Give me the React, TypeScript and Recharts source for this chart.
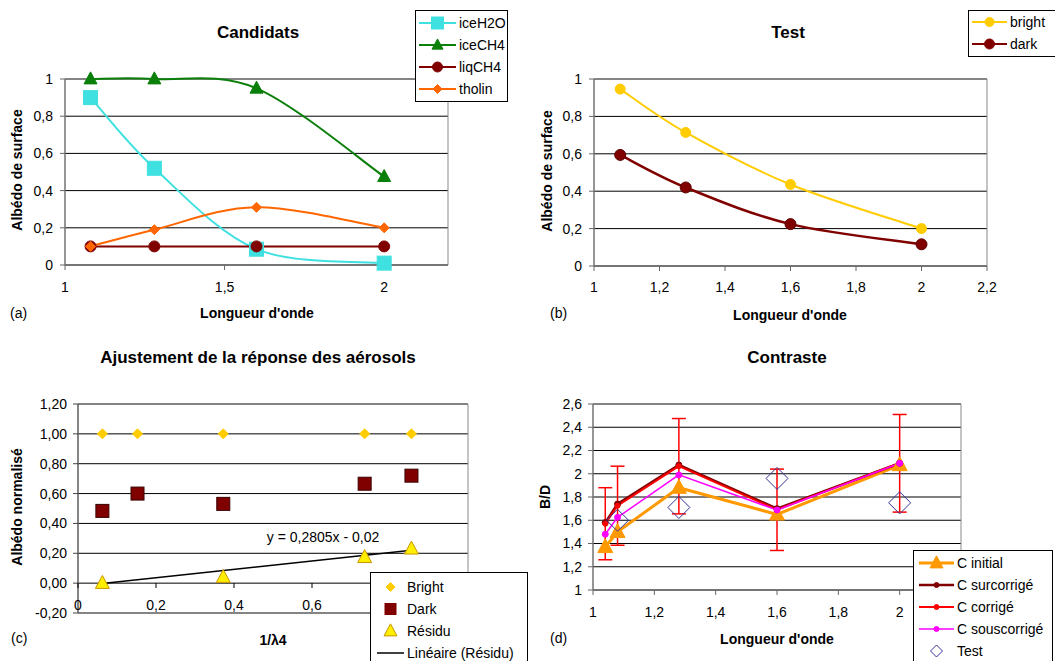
import React from 'react';
import { LineChart, Line, ScatterChart, Scatter, XAxis, YAxis, CartesianGrid, ReferenceArea, Legend, ErrorBar } from 'recharts';

const FONT = '"Liberation Sans", Arial, Helvetica, sans-serif';

// (a) Candidats
const candX = [1.08, 1.28, 1.6, 2];
const iceH2O = [0.9, 0.52, 0.085, 0.01];
const iceCH4 = [1, 1, 0.95, 0.475];
const liqCH4 = [0.1, 0.1, 0.1, 0.1];
const tholin = [0.1, 0.19, 0.31, 0.2];

// (b) Test
const testX = [1.08, 1.28, 1.6, 2];
const bright = [0.946, 0.714, 0.436, 0.2];
const dark = [0.594, 0.42, 0.224, 0.116];

// (c) Ajustement
const invL4 = [0.0625, 0.1526, 0.3725, 0.735, 0.855];
const brightNorm = [1, 1, 1, 1, 1];
const darkNorm = [0.484, 0.6, 0.531, 0.666, 0.72];
const residu = [0, null, 0.04, 0.173, 0.23];
const trendX = [0.0625, 0.855];
const trendY = [-0.0025, 0.22];

// (d) Contraste
const contX = [1.04, 1.08, 1.28, 1.6, 2];
const cInitial = [1.37, 1.5, 1.88, 1.65, 2.075];
const cSur = [1.58, 1.74, 2.075, 1.7, 2.09];
const cCorr = [1.57, 1.725, 2.065, 1.69, 2.09];
const cCorrErr = [0.31, 0.34, 0.41, 0.35, 0.42];
const cSous = [1.48, 1.625, 1.99, 1.688, 2.09];
const cTest = [null, 1.6, 1.71, 1.96, 1.75];

const ticksA = [1, 1.5, 2];
const ticks02 = [1, 1.2, 1.4, 1.6, 1.8, 2, 2.2];
const ticksD = [1, 1.2, 1.4, 1.6, 1.8, 2];
const ticksAlb = [0, 0.2, 0.4, 0.6, 0.8, 1];
const ticksCx = [0, 0.2, 0.4, 0.6];
const ticksCy = [-0.2, 0, 0.2, 0.4, 0.6, 0.8, 1, 1.2];
const ticksDy = [1, 1.2, 1.4, 1.6, 1.8, 2, 2.2, 2.4, 2.6];

const CYAN = '#3FE0E0';
const GREEN = '#0A800A';
const MAROON = '#800000';
const ORANGE = '#FF6600';
const GOLD = '#FFCC00';
const AMBER = '#FF9900';
const RED = '#FF0000';
const MAGENTA = '#FF00FF';
const NAVY = '#333399';

const fmt = (v: number) => String(Math.round(v * 100) / 100).replace('.', ',');
const fmt2 = (v: number) => v.toFixed(2).replace('.', ',');
const tickStyle = { fontSize: 14, fill: '#000', fontFamily: FONT };

type Shape = 'square' | 'circle' | 'triangle' | 'diamond';

function drawShape(shape: Shape, cx: number, cy: number, s: number, fill: string, stroke: string, sw = 1, key?: string) {
  const h = s / 2;
  if (shape === 'square') return <rect key={key} x={cx - h} y={cy - h} width={s} height={s} fill={fill} stroke={stroke} strokeWidth={sw} />;
  if (shape === 'circle') return <circle key={key} cx={cx} cy={cy} r={h} fill={fill} stroke={stroke} strokeWidth={sw} />;
  if (shape === 'triangle')
    return <polygon key={key} points={`${cx},${cy - h * 1.1} ${cx + h},${cy + h * 0.75} ${cx - h},${cy + h * 0.75}`} fill={fill} stroke={stroke} strokeWidth={sw} />;
  return <polygon key={key} points={`${cx},${cy - h} ${cx + h},${cy} ${cx},${cy + h} ${cx - h},${cy}`} fill={fill} stroke={stroke} strokeWidth={sw} />;
}

const dotOf = (shape: Shape, s: number, fill: string, stroke: string, sw = 1) => (p: any) => {
  const key = `${p.dataKey}-${p.index}`;
  if (p.cx == null || p.cy == null || p.value == null) return <g key={key} />;
  return drawShape(shape, p.cx, p.cy, s, fill, stroke, sw, key);
};

const shapeOf = (shape: Shape, s: number, fill: string, stroke: string, sw = 1) => (p: any) => {
  if (p.cx == null || p.cy == null) return <g />;
  return drawShape(shape, p.cx, p.cy, s, fill, stroke, sw);
};

// Excel-like smoothed line (Catmull-Rom style bezier)
function excelSmooth(context: any) {
  let pts: number[][] = [];
  return {
    areaStart() {},
    areaEnd() {},
    lineStart() {
      pts = [];
    },
    point(x: number, y: number) {
      pts.push([x, y]);
    },
    lineEnd() {
      if (!pts.length) return;
      context.moveTo(pts[0][0], pts[0][1]);
      for (let i = 0; i < pts.length - 1; i++) {
        const p0 = pts[i - 1] || pts[i];
        const p1 = pts[i];
        const p2 = pts[i + 1];
        const p3 = pts[i + 2] || p2;
        context.bezierCurveTo(
          p1[0] + (p2[0] - p0[0]) / 6,
          p1[1] + (p2[1] - p0[1]) / 6,
          p2[0] - (p3[0] - p1[0]) / 6,
          p2[1] - (p3[1] - p1[1]) / 6,
          p2[0],
          p2[1]
        );
      }
    },
  };
}

type Item = { name: string; color: string; shape?: Shape; size?: number; fill?: string; stroke?: string; line?: boolean; lw?: number };

function LegendBox({ items, symW, padL, padT, width }: { items: Item[]; symW: number; padL: number; padT: number; width: number }) {
  return (
    <div
      style={{
        border: '1px solid #000',
        background: '#fff',
        paddingLeft: padL,
        paddingTop: padT,
        paddingBottom: 1,
        width,
        boxSizing: 'border-box',
        fontFamily: FONT,
        fontSize: 14,
        color: '#000',
      }}
    >
      {items.map((it) => (
        <div key={it.name} style={{ display: 'flex', alignItems: 'center', height: 22, whiteSpace: 'nowrap' }}>
          <svg width={symW} height={22} style={{ flex: 'none' }}>
            {it.line !== false && <line x1={0} x2={symW} y1={11} y2={11} stroke={it.color} strokeWidth={it.lw ?? 2} />}
            {it.shape && drawShape(it.shape, symW / 2, 11, it.size ?? 8, it.fill ?? it.color, it.stroke ?? it.color)}
          </svg>
          <span style={{ marginLeft: 3 }}>{it.name}</span>
        </div>
      ))}
    </div>
  );
}

function Txt({ x, y, children, bold, size = 14, rotate, left }: any) {
  return (
    <div
      style={{
        position: 'absolute',
        left: x,
        top: y,
        whiteSpace: 'nowrap',
        fontFamily: FONT,
        fontSize: size,
        fontWeight: bold ? 'bold' : 'normal',
        lineHeight: 1,
        color: '#000',
        transform: left ? 'translate(0,-50%)' : `translate(-50%,-50%)${rotate ? ' rotate(-90deg)' : ''}`,
      }}
    >
      {children}
    </div>
  );
}

const candData = candX.map((x, i) => ({ x, iceH2O: iceH2O[i], iceCH4: iceCH4[i], liqCH4: liqCH4[i], tholin: tholin[i] }));
const testData = testX.map((x, i) => ({ x, bright: bright[i], dark: dark[i] }));
const brightPts = invL4.map((x, i) => ({ x, y: brightNorm[i] }));
const darkPts = invL4.map((x, i) => ({ x, y: darkNorm[i] }));
const residuPts = invL4.map((x, i) => ({ x, y: residu[i] })).filter((d) => d.y != null);
const trendPts = trendX.map((x, i) => ({ x, y: trendY[i] }));
const contData = contX.map((x, i) => ({
  x,
  initial: cInitial[i],
  sur: cSur[i],
  corr: cCorr[i],
  err: cCorrErr[i],
  sous: cSous[i],
  test: cTest[i],
}));

const ZeroTick = (p: any) => {
  const { x, y, payload } = p;
  return (
    <g>
      <line x1={x} x2={x} y1={y - 30} y2={y - 25} stroke="#000" />
      <text x={x} y={y - 3} textAnchor="middle" fontSize={14} fontFamily={FONT} fill="#000">
        {fmt(payload.value)}
      </text>
    </g>
  );
};

function ChartA() {
  const items: Item[] = [
    { name: 'iceH2O', color: CYAN, shape: 'square', size: 12 },
    { name: 'iceCH4', color: GREEN, shape: 'triangle', size: 11 },
    { name: 'liqCH4', color: MAROON, shape: 'circle', size: 10 },
    { name: 'tholin', color: ORANGE, shape: 'diamond', size: 9 },
  ];
  return (
    <div style={{ position: 'absolute', left: 0, top: 0, width: 530, height: 330 }}>
      <LineChart width={530} height={330} data={candData} margin={{ top: 79, right: 82, bottom: 35, left: 15 }}>
        <CartesianGrid vertical={false} stroke="#000" />
        <ReferenceArea x1={1} x2={2.2} y1={0} y2={1} fill="none" stroke="#8a8a8a" />
        <XAxis type="number" dataKey="x" domain={[1, 2.2]} ticks={ticksA} tickFormatter={fmt} height={30} stroke="#666" tickSize={5} tickMargin={12} tick={tickStyle} />
        <YAxis type="number" domain={[0, 1]} ticks={ticksAlb} tickFormatter={fmt} width={50} stroke="#666" tickSize={5} tickMargin={7} tick={tickStyle} />
        <Line dataKey="iceH2O" type={excelSmooth as any} stroke={CYAN} strokeWidth={2} dot={dotOf('square', 14, CYAN, CYAN)} activeDot={false} isAnimationActive={false} />
        <Line dataKey="iceCH4" type={excelSmooth as any} stroke={GREEN} strokeWidth={2} dot={dotOf('triangle', 13, GREEN, GREEN)} activeDot={false} isAnimationActive={false} />
        <Line dataKey="liqCH4" type={excelSmooth as any} stroke={MAROON} strokeWidth={2} dot={dotOf('circle', 11, MAROON, MAROON)} activeDot={false} isAnimationActive={false} />
        <Line dataKey="tholin" type={excelSmooth as any} stroke={ORANGE} strokeWidth={2} dot={dotOf('diamond', 10, ORANGE, ORANGE)} activeDot={false} isAnimationActive={false} />
        <Legend
          layout="vertical"
          align="center"
          verticalAlign="middle"
          wrapperStyle={{ left: 415, top: 10, width: 93, height: 'auto' }}
          content={() => <LegendBox items={items} symW={37} padL={3} padT={1} width={93} />}
        />
      </LineChart>
      <Txt x={258} y={32} bold size={17}>Candidats</Txt>
      <Txt x={17} y={170} bold rotate>Albédo de surface</Txt>
      <Txt x={257} y={313} bold>Longueur d'onde</Txt>
      <Txt x={10} y={313} left>(a)</Txt>
    </div>
  );
}

function ChartB() {
  const items: Item[] = [
    { name: 'bright', color: GOLD, shape: 'circle', size: 9 },
    { name: 'dark', color: MAROON, shape: 'circle', size: 10 },
  ];
  return (
    <div style={{ position: 'absolute', left: 525, top: 0, width: 530, height: 330 }}>
      <LineChart width={530} height={330} data={testData} margin={{ top: 79, right: 68, bottom: 34, left: 19 }}>
        <CartesianGrid vertical={false} stroke="#000" />
        <ReferenceArea x1={1} x2={2.2} y1={0} y2={1} fill="none" stroke="#8a8a8a" />
        <XAxis type="number" dataKey="x" domain={[1, 2.2]} ticks={ticks02} tickFormatter={fmt} height={30} stroke="#666" tickSize={5} tickMargin={11} tick={tickStyle} />
        <YAxis type="number" domain={[0, 1]} ticks={ticksAlb} tickFormatter={fmt} width={50} stroke="#666" tickSize={5} tickMargin={7} tick={tickStyle} />
        <Line dataKey="bright" type={excelSmooth as any} stroke={GOLD} strokeWidth={2} dot={dotOf('circle', 10, GOLD, GOLD)} activeDot={false} isAnimationActive={false} />
        <Line dataKey="dark" type={excelSmooth as any} stroke={MAROON} strokeWidth={2.5} dot={dotOf('circle', 11, MAROON, '#5a0000')} activeDot={false} isAnimationActive={false} />
        <Legend
          layout="vertical"
          align="center"
          verticalAlign="middle"
          wrapperStyle={{ left: 443, top: 10, width: 90, height: 'auto' }}
          content={() => <LegendBox items={items} symW={35} padL={3} padT={0} width={90} />}
        />
      </LineChart>
      <Txt x={263} y={32} bold size={17}>Test</Txt>
      <Txt x={22} y={171} bold rotate>Albédo de surface</Txt>
      <Txt x={265} y={315} bold>Longueur d'onde</Txt>
      <Txt x={25} y={313} left>(b)</Txt>
    </div>
  );
}

function ChartC() {
  const items: Item[] = [
    { name: 'Bright', color: GOLD, shape: 'diamond', size: 9, line: false },
    { name: 'Dark', color: MAROON, shape: 'square', size: 11, line: false },
    { name: 'Résidu', color: '#FFEE00', stroke: '#C89600', shape: 'triangle', size: 13, line: false },
    { name: 'Linéaire (Résidu)', color: '#000', lw: 1.5 },
  ];
  return (
    <div style={{ position: 'absolute', left: 0, top: 330, width: 530, height: 331 }}>
      <ScatterChart width={530} height={331} margin={{ top: 74, right: 62, bottom: 18, left: 28 }}>
        <CartesianGrid vertical={false} stroke="#000" />
        <ReferenceArea x1={0} x2={1} y1={-0.2} y2={1.2} fill="none" stroke="#8a8a8a" />
        <XAxis
          type="number"
          dataKey="x"
          domain={[0, 1]}
          ticks={ticksCx}
          height={30}
          axisLine={false}
          tickLine={false}
          tickSize={0}
          tickMargin={0}
          tick={(p: any) => <ZeroTick {...p} />}
        />
        <YAxis type="number" dataKey="y" domain={[-0.2, 1.2]} ticks={ticksCy} tickFormatter={fmt2} width={50} stroke="#444" tickSize={5} tickMargin={6} tick={tickStyle} />
        <Scatter data={trendPts} line={{ stroke: '#000', strokeWidth: 1.5 }} lineType="joint" shape={() => <g />} isAnimationActive={false} />
        <Scatter data={brightPts} shape={shapeOf('diamond', 10, GOLD, GOLD)} isAnimationActive={false} />
        <Scatter data={darkPts} shape={shapeOf('square', 13, MAROON, '#3a0000')} isAnimationActive={false} />
        <Scatter data={residuPts} shape={shapeOf('triangle', 14, '#FFEE00', '#C89600')} isAnimationActive={false} />
        <Legend
          layout="vertical"
          align="center"
          verticalAlign="middle"
          wrapperStyle={{ left: 370, top: 242, width: 158, height: 'auto' }}
          content={() => <LegendBox items={items} symW={27} padL={6} padT={3} width={158} />}
        />
      </ScatterChart>
      <Txt x={258} y={27} bold size={17}>Ajustement de la réponse des aérosols</Txt>
      <Txt x={17} y={177} bold rotate>Albédo normalisé</Txt>
      <Txt x={273} y={310} bold>1/λ4</Txt>
      <Txt x={11} y={308} left>(c)</Txt>
      <Txt x={323} y={207}>y = 0,2805x - 0,02</Txt>
    </div>
  );
}

function ChartD() {
  const items: Item[] = [
    { name: 'C initial', color: AMBER, shape: 'triangle', size: 13, lw: 3 },
    { name: 'C surcorrigé', color: MAROON, shape: 'circle', size: 5, lw: 2.5 },
    { name: 'C corrigé', color: RED, shape: 'circle', size: 5, lw: 2 },
    { name: 'C souscorrigé', color: MAGENTA, shape: 'circle', size: 5, lw: 1.5 },
    { name: 'Test', color: NAVY, shape: 'diamond', size: 12, fill: '#fff', line: false },
  ];
  return (
    <div style={{ position: 'absolute', left: 525, top: 330, width: 530, height: 331 }}>
      <LineChart width={530} height={331} data={contData} margin={{ top: 74, right: 94, bottom: 41, left: 18 }}>
        <CartesianGrid vertical={false} stroke="#000" />
        <ReferenceArea x1={1} x2={2.2} y1={1} y2={2.6} fill="none" stroke="#8a8a8a" />
        <XAxis type="number" dataKey="x" domain={[1, 2.2]} ticks={ticksD} tickFormatter={fmt} height={30} stroke="#666" tickSize={5} tickMargin={12} tick={tickStyle} />
        <YAxis type="number" domain={[1, 2.6]} ticks={ticksDy} tickFormatter={fmt} width={50} stroke="#666" tickSize={5} tickMargin={6} tick={tickStyle} />
        <Line dataKey="initial" stroke={AMBER} strokeWidth={3} dot={dotOf('triangle', 15, AMBER, AMBER)} activeDot={false} isAnimationActive={false} />
        <Line dataKey="sur" stroke={MAROON} strokeWidth={2.5} dot={dotOf('circle', 6, MAROON, MAROON)} activeDot={false} isAnimationActive={false} />
        <Line dataKey="corr" stroke={RED} strokeWidth={2} dot={dotOf('circle', 5, RED, RED)} activeDot={false} isAnimationActive={false}>
          <ErrorBar dataKey="err" direction="y" width={7} stroke={RED} strokeWidth={1.5} />
        </Line>
        <Line dataKey="sous" stroke={MAGENTA} strokeWidth={1.5} dot={dotOf('circle', 6, MAGENTA, MAGENTA)} activeDot={false} isAnimationActive={false} />
        <Line dataKey="test" stroke="none" dot={dotOf('diamond', 22, 'none', NAVY)} activeDot={false} isAnimationActive={false} />
        <Legend
          layout="vertical"
          align="center"
          verticalAlign="middle"
          wrapperStyle={{ left: 388, top: 220, width: 140, height: 'auto' }}
          content={() => <LegendBox items={items} symW={35} padL={5} padT={1} width={140} />}
        />
      </LineChart>
      <Txt x={262} y={27} bold size={17}>Contraste</Txt>
      <Txt x={20} y={167} bold rotate>B/D</Txt>
      <Txt x={252} y={309} bold>Longueur d'onde</Txt>
      <Txt x={25} y={308} left>(d)</Txt>
    </div>
  );
}

export default function App() {
  return (
    <div style={{ position: 'absolute', left: 0, top: 0, width: 1055, height: 661, overflow: 'hidden', background: '#fff' }}>
      <ChartA />
      <ChartB />
      <ChartC />
      <ChartD />
    </div>
  );
}
